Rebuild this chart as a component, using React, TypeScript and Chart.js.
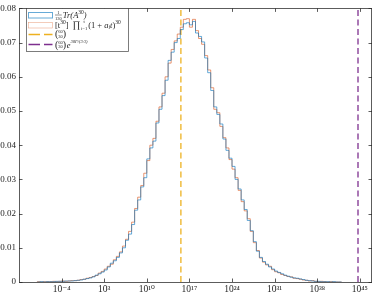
import React, { useEffect, useRef } from 'react';
import { Chart, registerables } from 'chart.js';

Chart.register(...registerables);

// Histogram bins (log10 of the lower edge of the first bin, and bin width in decades)
const BIN_START_EXP = -8;
const BIN_WIDTH_EXP = 0.5;

// (1/130) Tr(A^30) histogram (blue)
const traceValues = [
  0, 0, 0.0001, 0, 0.0001, 0.0001, 0.0001, 0.0002, 0.0002, 0.0002,
  0.0003, 0.0003, 0.0003, 0.0004, 0.0005, 0.0006, 0.0008, 0.001, 0.0012, 0.0015,
  0.002, 0.0024, 0.0029, 0.0035, 0.0044, 0.0055, 0.0062, 0.0072, 0.0085, 0.01,
  0.0122, 0.014, 0.0168, 0.021, 0.024, 0.0278, 0.0305, 0.036, 0.0392, 0.0412,
  0.0465, 0.0505, 0.0545, 0.059, 0.0648, 0.0672, 0.07, 0.0712, 0.0738, 0.0755,
  0.0758, 0.0752, 0.0762, 0.0728, 0.0718, 0.0702, 0.0655, 0.0612, 0.056, 0.0512,
  0.049, 0.0462, 0.0418, 0.0385, 0.0362, 0.0338, 0.03, 0.0272, 0.024, 0.0212,
  0.018, 0.015, 0.0118, 0.009, 0.0072, 0.006, 0.0052, 0.0044, 0.0038, 0.0032,
  0.0028, 0.0024, 0.002, 0.0017, 0.0014, 0.0012, 0.0011, 0.0009, 0.0007, 0.0005,
  0.0004, 0.0003, 0.0002, 0.0002, 0.0001, 0.0001, 0.0001, 0, 0.0001, 0,
];

// [t^30] prod (1 + a_i t)^30 histogram (orange)
const productValues = [
  0, 0.0001, 0, 0.0001, 0.0001, 0.0001, 0.0002, 0.0001, 0.0002, 0.0003,
  0.0002, 0.0003, 0.0004, 0.0004, 0.0005, 0.0007, 0.0008, 0.0011, 0.0013, 0.0016,
  0.0019, 0.0026, 0.0031, 0.0038, 0.0046, 0.0052, 0.0065, 0.0075, 0.0088, 0.0105,
  0.0125, 0.0148, 0.0175, 0.0215, 0.0248, 0.0282, 0.0318, 0.0355, 0.04, 0.042,
  0.047, 0.0512, 0.0552, 0.06, 0.064, 0.068, 0.0705, 0.0725, 0.0745, 0.0768,
  0.077, 0.0745, 0.0768, 0.0735, 0.0712, 0.0695, 0.0662, 0.062, 0.0568, 0.0505,
  0.0495, 0.0455, 0.0422, 0.0392, 0.0358, 0.033, 0.0305, 0.0268, 0.0235, 0.0208,
  0.0185, 0.0148, 0.0115, 0.0092, 0.007, 0.0058, 0.005, 0.0046, 0.0036, 0.003,
  0.0027, 0.0022, 0.0019, 0.0016, 0.0015, 0.0011, 0.001, 0.0008, 0.0006, 0.0005,
  0.0003, 0.0004, 0.0002, 0.0001, 0.0002, 0.0001, 0, 0.0001, 0, 0,
];

// vertical reference lines (log10 of x)
const binomialExp = 15.6;
const boundExp = 44.7;

const xTickExps = [-4, 3, 10, 17, 24, 31, 38, 45];
const yTickValues = [0, 0.01, 0.02, 0.03, 0.04, 0.05, 0.06, 0.07, 0.08];
const X_MIN_EXP = -11;
const X_MAX_EXP = 47;
const Y_MIN = 0;
const Y_MAX = 0.08;

const SERIF = "'Liberation Serif', 'DejaVu Serif', serif";
const AXIS_COLOR = '#262626';
const BLUE = 'rgba(0,114,189,0.6)';
const ORANGE = 'rgba(217,83,25,0.6)';
const YELLOW = '#EDB120';
const PURPLE = '#7E2F8E';

const SUP: Record<string, string> = {
  '-': '\u207B', '0': '\u2070', '1': '\u00B9', '2': '\u00B2', '3': '\u00B3',
  '4': '\u2074', '5': '\u2075', '6': '\u2076', '7': '\u2077', '8': '\u2078', '9': '\u2079',
};

function stairPoints(values: number[]) {
  const pts = values.map((v, i) => ({ x: Math.pow(10, BIN_START_EXP + i * BIN_WIDTH_EXP), y: v }));
  pts.push({ x: Math.pow(10, BIN_START_EXP + values.length * BIN_WIDTH_EXP), y: 0 });
  return pts;
}

type Run = { t: string; s: number; dy: number; it?: boolean };

function drawRuns(ctx: CanvasRenderingContext2D, x: number, y: number, runs: Run[]) {
  let cx = x;
  for (const r of runs) {
    ctx.font = `${r.it ? 'italic ' : ''}${r.s}px ${SERIF}`;
    ctx.fillText(r.t, cx, y + r.dy);
    cx += ctx.measureText(r.t).width;
  }
  return cx;
}

function drawStack(ctx: CanvasRenderingContext2D, x: number, yTop: number, yBot: number, top: string, bot: string, s: number, bar: boolean) {
  ctx.font = `${s}px ${SERIF}`;
  const w = Math.max(ctx.measureText(top).width, ctx.measureText(bot).width);
  ctx.textAlign = 'center';
  ctx.fillText(top, x + w / 2, yTop);
  ctx.fillText(bot, x + w / 2, yBot);
  ctx.textAlign = 'left';
  if (bar) {
    ctx.beginPath();
    ctx.moveTo(x, (yTop + yBot) / 2 - 1.5);
    ctx.lineTo(x + w, (yTop + yBot) / 2 - 1.5);
    ctx.lineWidth = 0.5;
    ctx.strokeStyle = AXIS_COLOR;
    ctx.stroke();
  }
  return x + w;
}

function drawBinom(ctx: CanvasRenderingContext2D, x: number, yc: number) {
  ctx.font = `10px ${SERIF}`;
  ctx.fillText('(', x, yc + 3.5);
  let cx = x + ctx.measureText('(').width;
  cx = drawStack(ctx, cx, yc - 0.5, yc + 4, '60', '30', 4.5, false);
  ctx.font = `10px ${SERIF}`;
  ctx.fillText(')', cx, yc + 3.5);
  return cx + ctx.measureText(')').width;
}

const decorPlugin = {
  id: 'decor',
  afterDraw(chart: any) {
    const ctx: CanvasRenderingContext2D = chart.ctx;
    const { left, right, top, bottom } = chart.chartArea;
    const xs = chart.scales.x;
    const ys = chart.scales.y;
    ctx.save();
    // box
    ctx.strokeStyle = AXIS_COLOR;
    ctx.globalAlpha = 0.75;
    ctx.lineWidth = 1;
    ctx.strokeRect(Math.round(left) + 0.5, Math.round(top) + 0.5, Math.round(right - left) - 1, Math.round(bottom - top));
    // inward ticks
    ctx.beginPath();
    for (const e of xTickExps) {
      const px = Math.round(xs.getPixelForValue(Math.pow(10, e))) + 0.5;
      ctx.moveTo(px, bottom);
      ctx.lineTo(px, bottom - 3.5);
      ctx.moveTo(px, top);
      ctx.lineTo(px, top + 3.5);
    }
    for (const v of yTickValues) {
      const py = Math.round(ys.getPixelForValue(v)) + 0.5;
      ctx.moveTo(left, py);
      ctx.lineTo(left + 3.5, py);
      ctx.moveTo(right, py);
      ctx.lineTo(right - 3.5, py);
    }
    ctx.stroke();
    ctx.globalAlpha = 1;

    // legend
    const lx = 26.5, ly = 8.5, lw = 102, lh = 43;
    ctx.fillStyle = '#ffffff';
    ctx.fillRect(lx, ly, lw, lh);
    ctx.strokeStyle = AXIS_COLOR;
    ctx.globalAlpha = 0.75;
    ctx.lineWidth = 0.8;
    ctx.strokeRect(lx, ly, lw, lh);
    ctx.globalAlpha = 1;

    // entry 1
    ctx.lineWidth = 1;
    ctx.strokeStyle = BLUE;
    ctx.strokeRect(28.5, 12.5, 24, 5.5);
    ctx.fillStyle = AXIS_COLOR;
    ctx.textBaseline = 'alphabetic';
    let cx = drawStack(ctx, 55, 13.5, 19.5, '1', '130', 4.5, true);
    drawRuns(ctx, cx + 1, 18, [
      { t: 'Tr(A', s: 8.5, dy: 0, it: true },
      { t: '30', s: 5.5, dy: -4 },
      { t: ')', s: 8.5, dy: 0, it: true },
    ]);

    // entry 2
    ctx.strokeStyle = ORANGE;
    ctx.strokeRect(28.5, 22.5, 24, 5.5);
    ctx.fillStyle = AXIS_COLOR;
    cx = drawRuns(ctx, 55, 27.5, [
      { t: '[t', s: 8.5, dy: 0 },
      { t: '30', s: 5.5, dy: -4 },
      { t: ']  ', s: 8.5, dy: 0 },
      { t: '\u220F', s: 9.5, dy: 0.5 },
    ]);
    cx = drawStack(ctx, cx + 0.5, 23, 29.5, 't', 'i=1', 4.5, false);
    drawRuns(ctx, cx + 1, 27.5, [
      { t: '(1 + ', s: 8.5, dy: 0 },
      { t: 'a', s: 8.5, dy: 0, it: true },
      { t: 'i', s: 5.5, dy: 1.5, it: true },
      { t: 't', s: 8.5, dy: 0, it: true },
      { t: ')', s: 8.5, dy: 0 },
      { t: '30', s: 5.5, dy: -4 },
    ]);

    // entry 3
    ctx.strokeStyle = YELLOW;
    ctx.lineWidth = 1.3;
    ctx.beginPath();
    ctx.moveTo(28.5, 34.5); ctx.lineTo(40, 34.5);
    ctx.moveTo(44, 34.5); ctx.lineTo(52.5, 34.5);
    ctx.stroke();
    ctx.fillStyle = AXIS_COLOR;
    drawBinom(ctx, 55, 33.5);

    // entry 4
    ctx.strokeStyle = PURPLE;
    ctx.beginPath();
    ctx.moveTo(28.5, 44.5); ctx.lineTo(40, 44.5);
    ctx.moveTo(44, 44.5); ctx.lineTo(52.5, 44.5);
    ctx.stroke();
    ctx.fillStyle = AXIS_COLOR;
    cx = drawBinom(ctx, 55, 44);
    drawRuns(ctx, cx + 0.5, 47.5, [
      { t: 'e', s: 8.5, dy: 0, it: true },
      { t: '30F/(3\u00B73)', s: 4.5, dy: -4.5, it: true },
    ]);
    ctx.restore();
  },
};

export default function App() {
  const ref = useRef<HTMLCanvasElement | null>(null);
  useEffect(() => {
    if (!ref.current) return;
    const chart = new Chart(ref.current, {
      type: 'line',
      data: {
        datasets: [
          {
            label: '1/130 Tr(A^30)',
            data: stairPoints(traceValues),
            borderColor: BLUE,
            borderWidth: 1,
            stepped: 'after',
            pointRadius: 0,
            fill: false,
          },
          {
            label: '[t^30] prod (1 + a_i t)^30',
            data: stairPoints(productValues),
            borderColor: ORANGE,
            borderWidth: 1,
            stepped: 'after',
            pointRadius: 0,
            fill: false,
          },
          {
            label: 'binom(60,30)',
            data: [
              { x: Math.pow(10, binomialExp), y: Y_MIN },
              { x: Math.pow(10, binomialExp), y: Y_MAX },
            ],
            borderColor: YELLOW,
            borderWidth: 1.3,
            borderDash: [6, 3.5],
            pointRadius: 0,
            fill: false,
          },
          {
            label: 'binom(60,30) e^{30F/(3*3)}',
            data: [
              { x: Math.pow(10, boundExp), y: Y_MIN },
              { x: Math.pow(10, boundExp), y: Y_MAX },
            ],
            borderColor: PURPLE,
            borderWidth: 1.3,
            borderDash: [6, 3.5],
            pointRadius: 0,
            fill: false,
          },
        ],
      } as any,
      options: {
        animation: false,
        responsive: true,
        maintainAspectRatio: false,
        parsing: false,
        layout: { padding: { top: 2, right: 2, left: 0, bottom: 0 } },
        plugins: { legend: { display: false }, tooltip: { enabled: false } },
        scales: {
          x: {
            type: 'logarithmic',
            min: Math.pow(10, X_MIN_EXP),
            max: Math.pow(10, X_MAX_EXP),
            grid: { display: false, drawTicks: false },
            border: { display: false },
            afterBuildTicks: (scale: any) => {
              scale.ticks = xTickExps.map((e) => ({ value: Math.pow(10, e) }));
            },
            afterFit: (scale: any) => {
              scale.height = 15;
            },
            ticks: {
              autoSkip: false,
              maxRotation: 0,
              padding: 2,
              color: AXIS_COLOR,
              font: { family: SERIF, size: 9.5 },
              callback: (v: any) => {
                const e = Math.round(Math.log10(Number(v)));
                return '10' + String(e).split('').map((c) => SUP[c] || c).join('');
              },
            },
          },
          y: {
            type: 'linear',
            min: Y_MIN,
            max: Y_MAX,
            grid: { display: false, drawTicks: false },
            border: { display: false },
            afterBuildTicks: (scale: any) => {
              scale.ticks = yTickValues.map((v) => ({ value: v }));
            },
            afterFit: (scale: any) => {
              scale.width = 19;
            },
            ticks: {
              padding: 3,
              color: AXIS_COLOR,
              font: { family: SERIF, size: 9 },
              callback: (v: any) => (Number(v) === 0 ? '0' : Number(v).toFixed(2)),
            },
          },
        },
      } as any,
      plugins: [decorPlugin],
    });
    return () => chart.destroy();
  }, []);
  return (
    <div style={{ position: 'fixed', left: 0, top: 0, width: 374, height: 297, background: '#fff' }}>
      <canvas ref={ref} />
    </div>
  );
}
